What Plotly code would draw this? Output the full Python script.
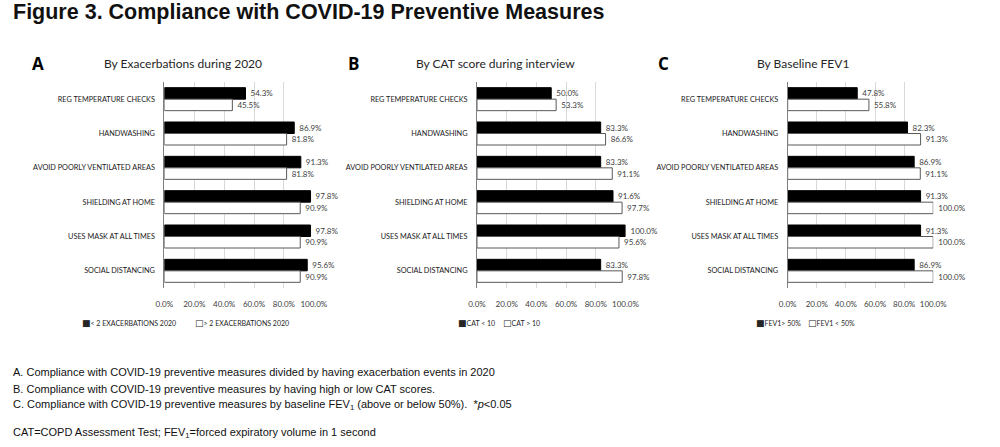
import plotly.graph_objects as go

# ---------------- data ----------------
categories = [
    "REG TEMPERATURE CHECKS",
    "HANDWASHING",
    "AVOID POORLY VENTILATED AREAS",
    "SHIELDING AT HOME",
    "USES MASK AT ALL TIMES",
    "SOCIAL DISTANCING",
]

a_names = ["< 2 EXACERBATIONS 2020", "> 2 EXACERBATIONS 2020"]
a_low = [54.3, 86.9, 91.3, 97.8, 97.8, 95.6]
a_high = [45.5, 81.8, 81.8, 90.9, 90.9, 90.9]

b_names = ["CAT < 10", "CAT > 10"]
b_low = [50.0, 83.3, 83.3, 91.6, 100.0, 83.3]
b_high = [53.3, 86.6, 91.1, 97.7, 95.6, 97.8]

c_names = ["FEV1> 50%", "FEV1 < 50%"]
c_above = [47.8, 82.3, 86.9, 91.3, 91.3, 86.9]
c_below = [55.8, 91.3, 91.1, 100.0, 100.0, 100.0]

x_tick_values = [0, 20, 40, 60, 80, 100]
x_tick_labels = ["0.0%", "20.0%", "40.0%", "60.0%", "80.0%", "100.0%"]

panel_letters = ["A", "B", "C"]
panel_titles = ["By Exacerbations during 2020", "By CAT score during interview", "By Baseline FEV1"]

main_title = "Figure 3. Compliance with COVID-19 Preventive Measures"
footnotes = [
    "A. Compliance with COVID-19 preventive measures divided by having exacerbation events in 2020",
    "B. Compliance with COVID-19 preventive measures by having high or low CAT scores.",
    "C. Compliance with COVID-19 preventive measures by baseline FEV<sub>1</sub> (above or below 50%).  *<i>p</i>&lt;0.05",
    "CAT=COPD Assessment Test; FEV<sub>1</sub>=forced expiratory volume in 1 second",
]

# ---------------- layout helpers ----------------
W, H = 1000, 447
def px_x(v):
    return v / W
def px_y(v):
    return 1 - v / H

panels = [
    dict(names=a_names, s1=a_low, s2=a_high, dom=(159, 312), letter_x=30, title_x=178,
         leg_x=(73, 188)),
    dict(names=b_names, s1=b_low, s2=b_high, dom=(479, 631), letter_x=353, title_x=498,
         leg_x=(458, 504)),
    dict(names=c_names, s1=c_above, s2=c_below, dom=(797, 946), letter_x=670, title_x=813,
         leg_x=(763, 816)),
]

CAL = "Lato, 'Open Sans', sans-serif"
ARIAL = "'Liberation Sans', Arial, sans-serif"

fig = go.Figure()
annotations = []
y_dom = [px_y(288), px_y(82)]

for i, p in enumerate(panels):
    sfx = "" if i == 0 else str(i + 1)
    xa, ya = "x" + sfx, "y" + sfx
    fig.add_trace(go.Bar(
        y=categories, x=p["s1"], orientation="h", name=p["names"][0],
        marker=dict(color="black", line=dict(color="black", width=1)),
        texttemplate="\u00a0%{x:.1f}%", textposition="outside", constraintext="none",
        textfont=dict(family=CAL, size=8, color="#404040"), cliponaxis=False,
        xaxis=xa, yaxis=ya, showlegend=False,
    ))
    fig.add_trace(go.Bar(
        y=categories, x=p["s2"], orientation="h", name=p["names"][1],
        marker=dict(color="white", line=dict(color="#595959", width=1)),
        texttemplate="\u00a0%{x:.1f}%", textposition="outside", constraintext="none",
        textfont=dict(family=CAL, size=8, color="#404040"), cliponaxis=False,
        xaxis=xa, yaxis=ya, showlegend=False,
    ))
    fig.update_layout(**{
        "xaxis" + sfx: dict(
            domain=[px_x(p["dom"][0]), px_x(p["dom"][1])], range=[0, 100],
            anchor=ya, tickvals=x_tick_values, ticktext=x_tick_labels,
            showgrid=True, gridcolor="#d9d9d9", gridwidth=1, zeroline=False,
            showline=False, ticks="", ticklabelstandoff=10,
            tickfont=dict(family=CAL, size=8, color="#404040"), fixedrange=True,
        ),
        "yaxis" + sfx: dict(
            domain=y_dom, anchor=xa, autorange="reversed", type="category",
            showline=True, linecolor="#7f7f7f", linewidth=1, showgrid=False,
            ticks="", ticklabelstandoff=7,
            tickfont=dict(family=CAL, size=7.3, color="#1a1a1a"), fixedrange=True,
        ),
    })
    annotations.append(dict(
        text=panel_letters[i], x=px_x(p["letter_x"]), y=px_y(64), xref="paper", yref="paper",
        xanchor="center", yanchor="middle", showarrow=False,
        font=dict(family="'Open Sans', " + CAL, size=17, color="black", weight="bold"),
    ))
    annotations.append(dict(
        text=panel_titles[i], x=px_x(p["title_x"]), y=px_y(63), xref="paper", yref="paper",
        xanchor="center", yanchor="middle", showarrow=False,
        font=dict(family=CAL, size=12, color="#262626"),
    ))
    for k, sym in enumerate(["\u25A0", "\u25A1"]):
        annotations.append(dict(
            text="<span style='font-family:DejaVu Sans;font-size:9px'>" + sym + "</span>" + p["names"][k],
            x=px_x(p["leg_x"][k]), y=px_y(323),
            xref="paper", yref="paper", xanchor="left", yanchor="middle", showarrow=False,
            font=dict(family=CAL, size=7, color="#262626"),
        ))

annotations.append(dict(
    text="<b>" + main_title + "</b>", x=px_x(2), y=px_y(12), xref="paper", yref="paper",
    xanchor="left", yanchor="middle", showarrow=False,
    font=dict(family=ARIAL, size=21.5, color="#111111"),
))
for txt, yy in zip(footnotes, [372, 389, 405, 433]):
    annotations.append(dict(
        text=txt, x=px_x(2), y=px_y(yy), xref="paper", yref="paper",
        xanchor="left", yanchor="middle", showarrow=False,
        font=dict(family=ARIAL, size=11, color="#111111"),
    ))

fig.update_layout(
    width=W, height=H, margin=dict(l=0, r=0, t=0, b=0),
    paper_bgcolor="white", plot_bgcolor="white",
    barmode="group", bargap=0.33, bargroupgap=0,
    annotations=annotations, showlegend=False,
)

fig.write_html(
    "out.html",
    config={"displayModeBar": False},
    post_script="document.body.style.margin='0';document.body.style.overflow='hidden';",
)
